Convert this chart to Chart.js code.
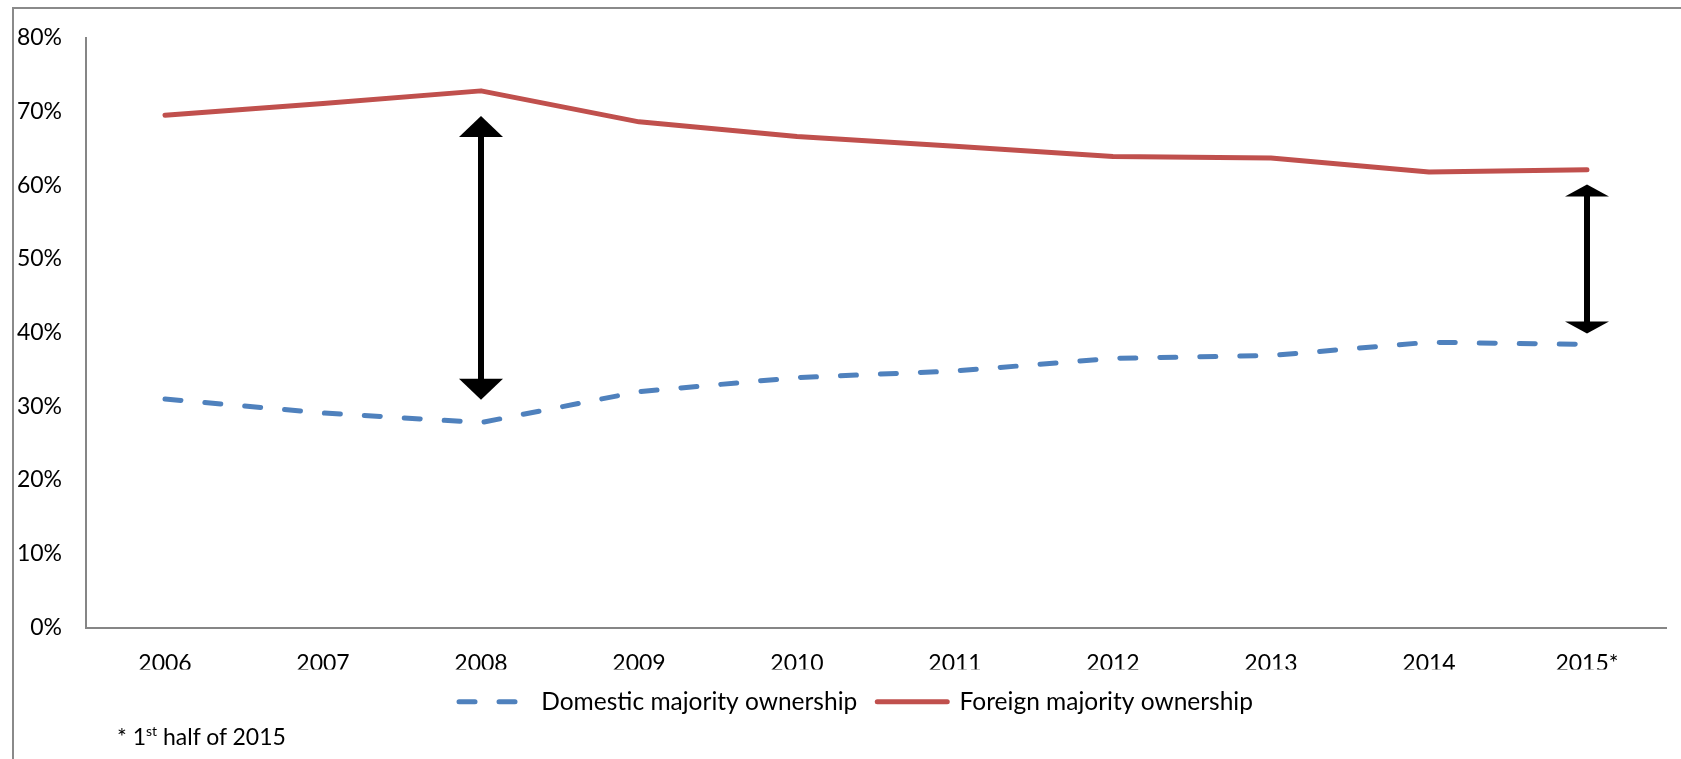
<!DOCTYPE html>
<html>
<head>
<meta charset="utf-8">
<script src="https://cdn.jsdelivr.net/npm/chart.js@4.4.1/dist/chart.umd.min.js"></script>
<style>
  html, body { margin: 0; padding: 0; background: #fff; }
  #wrap { position: relative; width: 1681px; height: 759px; overflow: hidden; }
  #frame { position: absolute; left: 12px; top: 7px; width: 1700px; height: 800px;
           border-left: 2px solid #8a8a8a; border-top: 2px solid #8a8a8a; }
  #note { position: absolute; left: 117px; top: 725px; font: 23px Lato, sans-serif;
          line-height: 23px; color: #000; }
  #note sup { font-size: 14px; vertical-align: 9px; line-height: 0; }
</style>
</head>
<body>
<div id="wrap">
  <div id="frame"></div>
  <canvas id="chart-1" width="1681" height="759"></canvas>
  <div id="note">* 1<sup>st</sup> half of 2015</div>
</div>
<script>
const years = ["2006", "2007", "2008", "2009", "2010", "2011", "2012", "2013", "2014", "2015*"];
const domestic = [31.0, 29.1, 27.8, 32.0, 33.9, 34.8, 36.5, 36.9, 38.7, 38.4];
const foreign = [69.5, 71.1, 72.8, 68.6, 66.6, 65.3, 63.9, 63.7, 61.8, 62.1];
const yTickLabels = ["0%", "10%", "20%", "30%", "40%", "50%", "60%", "70%", "80%"];

// double-headed arrows showing the gap between the two series
const gapYears = ["2008", "2015*"];
const gapTop = [69.4, 60.1];
const gapBottom = [30.9, 39.9];

const gapArrows = {
  id: "gapArrows",
  afterDatasetsDraw(chart) {
    const ctx = chart.ctx;
    const x = chart.scales.x;
    const y = chart.scales.y;
    const heads = [21, 12];
    ctx.save();
    ctx.fillStyle = "#000";
    ctx.strokeStyle = "#000";
    gapYears.forEach((yr, i) => {
      const px = x.getPixelForValue(years.indexOf(yr));
      const top = y.getPixelForValue(gapTop[i]);
      const bot = y.getPixelForValue(gapBottom[i]);
      const h = heads[i];
      const hw = 22;
      ctx.lineWidth = 6;
      ctx.beginPath();
      ctx.moveTo(px, top + h - 1);
      ctx.lineTo(px, bot - h + 1);
      ctx.stroke();
      ctx.beginPath();
      ctx.moveTo(px, top);
      ctx.lineTo(px + hw, top + h);
      ctx.lineTo(px - hw, top + h);
      ctx.closePath();
      ctx.fill();
      ctx.beginPath();
      ctx.moveTo(px, bot);
      ctx.lineTo(px + hw, bot - h);
      ctx.lineTo(px - hw, bot - h);
      ctx.closePath();
      ctx.fill();
    });
    ctx.restore();
  }
};

// centre the legend under the plot area rather than the whole canvas
const legendShift = {
  id: "legendShift",
  afterLayout(chart) {
    chart.legend.left = chart.chartArea.left - 40;
  }
};

Chart.defaults.font.family = "Lato, sans-serif";
Chart.defaults.font.size = 23;
Chart.defaults.color = "#000";

const ctx1 = document.getElementById("chart-1").getContext("2d");
const myChart1 = new Chart(ctx1, {
  type: "line",
  data: {
    labels: years,
    datasets: [
      {
        label: "Domestic majority ownership",
        data: domestic,
        borderColor: "#4F81BD",
        backgroundColor: "#4F81BD",
        borderWidth: 5,
        borderDash: [16, 24],
        borderCapStyle: "round",
        borderJoinStyle: "round",
        pointRadius: 0,
        tension: 0,
      },
      {
        label: "Foreign majority ownership",
        data: foreign,
        borderColor: "#C0504D",
        backgroundColor: "#C0504D",
        borderWidth: 5,
        borderCapStyle: "round",
        borderJoinStyle: "round",
        pointRadius: 0,
        tension: 0,
      },
    ],
  },
  options: {
    responsive: false,
    animation: false,
    devicePixelRatio: 1,
    layout: { padding: { left: 10, top: 32, right: 15, bottom: 35 } },
    plugins: {
      tooltip: { enabled: false },
      legend: {
        position: "bottom",
        labels: {
          usePointStyle: true,
          pointStyle: "line",
          pointStyleWidth: 70,
          padding: 20,
          color: "#000",
          font: { size: 24.5 },
          // keep the dash pattern of each line in its legend sample
          generateLabels(chart) {
            const items = Chart.defaults.plugins.legend.labels.generateLabels(chart);
            items.forEach(item => {
              const ds = chart.data.datasets[item.datasetIndex];
              item.lineDash = ds.borderDash || [];
              item.lineCap = "round";
              item.strokeStyle = ds.borderColor;
              item.lineWidth = 5;
            });
            return items;
          },
        },
      },
    },
    scales: {
      x: {
        offset: true,
        grid: { display: false, drawTicks: false },
        border: { color: "#868686", width: 2 },
        ticks: { padding: 22, maxRotation: 0 },
        afterFit(scale) { scale.height = 42; },
      },
      y: {
        min: 0,
        max: 80,
        grid: { display: false, drawTicks: false },
        border: { color: "#868686", width: 2 },
        ticks: {
          stepSize: 10,
          padding: 24,
          callback: function(value, index) { return yTickLabels[index]; },
        },
        afterFit(scale) { scale.width = 76; },
      },
    },
  },
  plugins: [gapArrows, legendShift],
});
</script>
</body>
</html>
